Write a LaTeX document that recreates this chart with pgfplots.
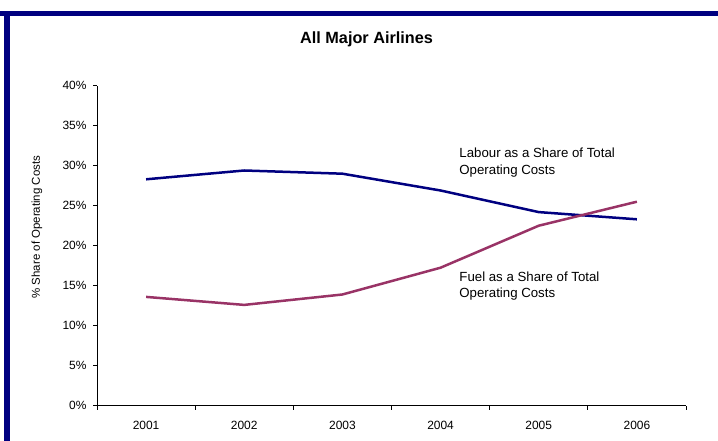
\documentclass[border=0pt]{standalone}
\usepackage{fontspec}
\setmainfont{Liberation Sans}
\usepackage{pgfplots}
\pgfplotsset{compat=1.18}
\definecolor{navyframe}{HTML}{000080}
\definecolor{labour}{HTML}{000080}
\definecolor{fuel}{HTML}{993366}
\begin{document}
\begin{tikzpicture}
\useasboundingbox (0,0) rectangle (718bp,441bp);
\fill[navyframe] (0,425.3bp) rectangle (718bp,430bp);
\fill[navyframe] (4.3bp,0) rectangle (10bp,430bp);
\begin{axis}[
  at={(97bp,35.3bp)}, anchor=south west,
  scale only axis, width=589bp, height=320bp,
  xmin=-0.5, xmax=5.5, ymin=0, ymax=40,
  axis x line*=bottom, axis y line*=left,
  axis line style={black, line width=0.8bp},
  tick style={black, line width=0.8bp},
  tick align=outside, major tick length=4bp,
  xtick={-0.5,0.5,1.5,2.5,3.5,4.5,5.5},
  x tick label as interval=true,
  xticklabels={2001,2002,2003,2004,2005,2006},
  ytick={0,5,10,15,20,25,30,35,40},
  yticklabels={0\%,5\%,10\%,15\%,20\%,25\%,30\%,35\%,40\%},
  xticklabel style={font=\fontsize{12}{14}\selectfont, inner sep=0pt, anchor=north, yshift=-11bp},
  yticklabel style={font=\fontsize{12}{14}\selectfont, inner sep=0pt, anchor=east, xshift=-6.3bp},
  ylabel={\% Share of Operating Costs},
  ylabel style={at={(axis description cs:-0.1019,0.558)}, anchor=center, rotate=0, font=\fontsize{11.5}{13}\selectfont},
  title={All Major Airlines},
  title style={at={(axis description cs:0.4576,1.1147)}, anchor=base, yshift=0pt, font=\bfseries\fontsize{16.3}{19}\selectfont},
  clip=false,
]
\addplot[labour, line width=2.5bp] coordinates {(0,28.3) (1,29.4) (2,29.0) (3,26.9) (4,24.2) (5,23.3)};
\addplot[fuel, line width=2.5bp] coordinates {(0,13.6) (1,12.6) (2,13.9) (3,17.25) (4,22.5) (5,25.5)};
\node[anchor=base west, inner sep=0pt, font=\fontsize{13.3}{16}\selectfont] at (axis cs:3.19,31.05) {Labour as a Share of Total};
\node[anchor=base west, inner sep=0pt, font=\fontsize{13.3}{16}\selectfont] at (axis cs:3.19,28.93) {Operating Costs};
\node[anchor=base west, inner sep=0pt, font=\fontsize{13.3}{16}\selectfont] at (axis cs:3.19,15.5) {Fuel as a Share of Total};
\node[anchor=base west, inner sep=0pt, font=\fontsize{13.3}{16}\selectfont] at (axis cs:3.19,13.5) {Operating Costs};
\end{axis}
\end{tikzpicture}
\end{document}
